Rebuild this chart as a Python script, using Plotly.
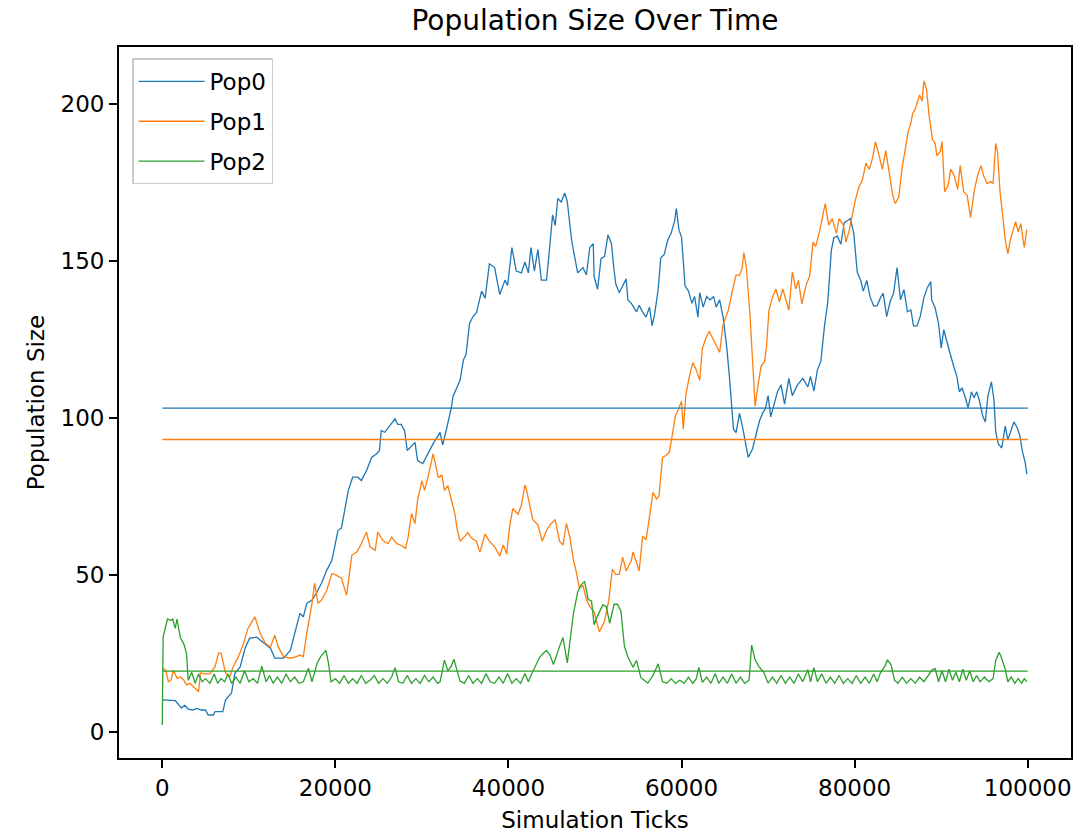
import plotly.graph_objects as go

# ---------------- data (ticks in thousands, values = population size) ----------------
pop0_ticks_k = [0, 0.5, 1.0, 1.5, 1.8, 2.2, 2.6, 3.0, 3.5, 4.0, 4.5, 5.0, 5.3, 5.9, 6.1, 7.0, 7.3, 8.0, 8.4, 9.0,
                9.6, 10.1, 10.9, 11.7, 12.5, 13.0, 14.0, 14.8, 15.5, 15.9, 16.3, 16.7, 17.3, 17.8, 18.4, 19.0, 19.6, 20.0,
                20.3, 20.7, 21.1, 21.5, 22.0, 22.6, 23.0, 23.6, 24.2, 24.8, 25.1, 25.3, 25.7, 26.3, 26.9, 27.2, 27.6,
                28.0, 28.3, 28.6, 29.2, 29.5, 30.1, 30.7, 31.3, 32.1, 32.4, 32.8, 33.4, 33.6, 34.1, 34.4, 34.8, 35.1,
                35.5, 35.9, 36.3, 36.9, 37.3, 37.8, 38.4, 39.0, 39.6, 39.9, 40.4, 40.9, 41.5, 41.9, 42.3, 42.6, 43.0,
                43.4, 43.8, 44.4, 44.8, 45.1, 45.4, 45.7, 46.1, 46.5, 46.8, 47.3, 47.6, 48.0, 48.6, 49.0, 49.4, 49.8,
                49.9, 50.3, 50.7, 51.1, 51.5, 51.9, 52.2, 52.4, 52.8, 53.2, 53.6, 53.8, 54.2, 54.8, 55.1, 55.5, 55.9,
                56.3, 56.6, 56.9, 57.3, 57.6, 58.0, 58.4, 58.8, 59.2, 59.4, 59.7, 60.0, 60.4, 60.8, 61.2, 61.5, 61.9,
                62.1, 62.5, 62.9, 63.3, 63.7, 64.0, 64.4, 64.8, 65.2, 65.5, 65.8, 66.0, 66.3, 66.7, 67.1, 67.5, 67.7,
                68.2, 68.6, 69.0, 69.4, 69.7, 70.0, 70.3, 70.7, 71.1, 71.5, 71.9, 72.4, 72.8, 73.4, 74.0, 74.6, 74.9,
                75.3, 75.7, 76.1, 76.5, 76.9, 77.3, 77.6, 78.0, 78.4, 78.8, 79.2, 79.5, 79.9, 80.3, 80.7, 81.0, 81.4,
                81.8, 82.2, 82.6, 83.0, 83.3, 83.7, 84.1, 84.5, 84.9, 85.3, 85.7, 86.1, 86.5, 86.8, 87.2, 87.6, 88.0,
                88.4, 88.8, 88.9, 89.3, 89.7, 90.0, 90.3, 90.7, 91.1, 91.5, 91.8, 92.1, 92.4, 92.8, 93.1, 93.5, 93.8,
                94.1, 94.4, 94.8, 95.1, 95.4, 95.8, 96.1, 96.3, 96.6, 97.0, 97.4, 97.7, 98.1, 98.4, 98.8, 99.1, 99.4,
                99.7, 99.9]
pop0_values = [10.2, 10.2, 10.2, 10.0, 9.0, 7.6, 8.5, 7.3, 7.0, 7.5, 7.0, 7.0, 5.4, 5.4, 6.5, 6.5, 10.2, 12.4, 18.8, 20.7,
               27.0, 29.9, 30.2, 28.3, 26.7, 23.5, 23.5, 26.0, 33.5, 37.8, 36.7, 41.0, 42.0, 44.2, 47.4, 51.5, 54.7, 60.1,
               64.2, 65.0, 71.6, 77.0, 81.2, 81.2, 80.1, 83.3, 87.5, 88.7, 89.7, 96.0, 95.5, 97.6, 99.8, 98.0, 98.0,
               96.0, 89.7, 90.5, 92.3, 86.5, 85.5, 88.7, 91.9, 95.5, 91.5, 96.0, 103.4, 107.0, 109.8, 112.0, 118.6, 120.3,
               130.1, 132.4, 133.6, 140.5, 138.2, 149.2, 148.0, 139.4, 144.0, 142.3, 154.4, 146.9, 146.3, 149.8, 146.3,
               154.4, 146.9, 153.8, 144.0, 144.0, 155.6, 164.8, 161.4, 170.0, 168.9, 171.8, 168.9, 156.7, 152.1, 146.3,
               148.0, 145.7, 154.4, 155.6, 145.2, 141.1, 150.9, 151.5, 158.4, 155.6, 147.2, 142.8, 140.0, 142.2, 144.4,
               137.7, 136.6, 133.9, 136.0, 133.9, 132.2, 135.4, 129.4, 133.3, 141.1, 151.1, 152.2, 156.7, 159.0, 162.9,
               166.8, 160.0, 157.7, 142.2, 140.5, 136.6, 138.8, 132.2, 140.0, 135.4, 138.8, 137.7, 138.8, 135.4, 137.7,
               132.2, 123.2, 114.3, 103.2, 96.5, 95.4, 101.5, 96.5, 90.9, 87.5, 90.2, 95.0, 99.1, 101.8, 103.1, 107.2,
               100.4, 104.5, 108.6, 110.6, 104.5, 112.7, 107.2, 110.6, 112.7, 110.0, 113.3, 108.6, 115.4, 118.1, 129.0,
               137.1, 153.4, 157.5, 158.0, 155.4, 162.3, 163.0, 163.6, 158.9, 146.6, 143.9, 140.5, 143.9, 138.5, 135.8,
               135.8, 138.5, 139.8, 132.4, 137.1, 139.8, 148.0, 137.7, 141.0, 133.9, 134.5, 129.4, 129.4, 132.6, 138.4,
               141.6, 143.5, 137.7, 135.2, 130.1, 122.4, 128.2, 123.7, 119.9, 116.0, 113.5, 108.4, 109.7, 106.5, 103.3,
               108.4, 106.5, 108.4, 105.8, 100.7, 98.8, 107.1, 111.6, 105.8, 95.6, 91.8, 90.5, 97.5, 93.1, 96.3, 98.8,
               96.9, 94.3, 89.2, 86.0, 82.2]

pop1_ticks_k = [0, 0.4, 0.7, 1.0, 1.3, 1.7, 2.1, 2.5, 2.8, 3.2, 3.6, 4.2, 4.4, 5.0, 5.5, 6.1, 6.5, 6.8, 7.3, 7.8, 8.2,
                8.8, 9.4, 9.9, 10.7, 11.3, 11.9, 12.5, 13.0, 13.4, 14.0, 14.8, 15.5, 15.9, 16.3, 16.7, 17.3, 17.6, 18.0,
                18.4, 19.0, 19.6, 20.1, 20.7, 21.3, 21.9, 22.5, 23.0, 23.6, 24.0, 24.6, 24.9, 25.5, 26.1, 26.5, 27.1,
                27.6, 28.1, 28.4, 28.8, 29.2, 29.5, 30.0, 30.3, 30.7, 31.3, 31.9, 32.3, 32.6, 33.0, 33.4, 33.8, 34.1,
                34.4, 35.0, 35.3, 35.7, 36.3, 36.7, 37.3, 37.8, 38.4, 39.0, 39.4, 39.8, 40.1, 40.5, 41.1, 41.5, 41.9,
                42.1, 42.5, 42.8, 43.4, 43.9, 44.4, 44.8, 45.4, 45.9, 46.3, 46.7, 47.1, 47.5, 47.8, 48.2, 48.6, 49.0,
                49.4, 49.9, 50.5, 51.1, 51.6, 52.0, 52.4, 52.8, 53.2, 53.6, 54.2, 54.4, 54.8, 55.1, 55.5, 55.9, 56.3,
                56.7, 57.1, 57.4, 57.8, 58.2, 58.6, 58.9, 59.3, 59.6, 60.0, 60.2, 60.5, 60.9, 61.3, 61.7, 62.1, 62.4,
                62.8, 63.2, 63.6, 64.0, 64.4, 64.8, 65.4, 66.0, 66.3, 66.7, 67.0, 67.2, 67.5, 67.9, 68.2, 68.5, 68.8,
                69.2, 69.6, 69.8, 70.1, 70.5, 70.9, 71.3, 71.7, 72.1, 72.4, 72.8, 73.2, 73.5, 73.9, 74.4, 74.8, 75.2,
                75.5, 76.0, 76.3, 76.6, 77.0, 77.4, 77.9, 78.2, 78.7, 79.0, 79.4, 79.7, 80.1, 80.5, 80.9, 81.3, 81.7,
                82.1, 82.4, 82.8, 83.2, 83.6, 84.0, 84.4, 84.7, 85.1, 85.5, 85.9, 86.2, 86.5, 86.7, 87.0, 87.5, 87.8,
                88.0, 88.3, 88.6, 89.0, 89.3, 89.5, 89.9, 90.1, 90.4, 90.8, 91.1, 91.5, 91.9, 92.2, 92.6, 93.0, 93.4,
                93.8, 94.2, 94.6, 94.9, 95.3, 95.7, 96.0, 96.3, 96.5, 96.8, 97.1, 97.4, 97.7, 98.0, 98.4, 98.6, 98.9,
                99.2, 99.6, 99.9]
pop1_values = [20.3, 19.7, 16.0, 16.5, 19.7, 17.1, 17.5, 16.5, 15.0, 15.5, 14.4, 12.8, 18.8, 18.5, 18.5, 20.8, 25.1,
               25.1, 18.8, 17.6, 20.8, 24.0, 28.3, 33.0, 36.7, 31.5, 28.3, 27.1, 30.8, 27.1, 24.0, 23.5, 24.0, 24.5,
               24.0, 31.5, 41.0, 47.4, 41.0, 42.0, 45.1, 50.5, 50.0, 49.0, 43.6, 56.3, 57.4, 60.0, 63.7, 59.0, 57.9,
               63.7, 61.0, 60.0, 62.1, 60.0, 59.5, 58.5, 62.0, 69.6, 66.4, 73.8, 80.1, 77.0, 81.2, 88.7, 81.0, 82.0,
               77.0, 78.5, 74.0, 69.6, 64.2, 60.8, 62.5, 63.6, 61.9, 60.8, 57.3, 63.1, 60.8, 59.0, 56.1, 59.6, 56.7,
               64.8, 71.2, 69.4, 72.3, 78.7, 77.0, 71.2, 67.7, 66.0, 60.8, 64.2, 66.0, 67.7, 60.8, 59.6, 66.5, 61.9,
               55.0, 51.5, 45.7, 46.8, 42.3, 39.9, 38.2, 31.9, 35.3, 42.0, 51.8, 50.2, 50.2, 55.7, 51.3, 54.6, 57.4,
               54.0, 51.3, 62.4, 61.3, 68.6, 76.4, 74.2, 75.3, 87.5, 88.1, 89.2, 94.2, 100.9, 102.6, 105.4, 96.5, 107.6,
               113.2, 117.7, 115.4, 112.1, 122.1, 125.5, 127.7, 125.5, 123.2, 121.0, 129.9, 134.4, 142.2, 145.6, 145.6,
               147.8, 152.8, 147.8, 133.3, 117.7, 103.8, 110.0, 116.7, 118.1, 122.2, 134.4, 138.5, 141.2, 137.1, 141.2,
               137.1, 134.4, 146.6, 141.2, 143.9, 136.4, 142.5, 145.2, 156.1, 154.7, 160.2, 164.3, 168.4, 161.5, 163.6,
               158.9, 163.6, 161.5, 156.1, 160.2, 164.3, 169.7, 173.8, 175.9, 181.3, 179.3, 183.3, 188.1, 184.0, 179.3,
               185.3, 177.9, 171.1, 168.4, 170.5, 180.0, 186.5, 191.5, 194.0, 197.1, 198.5, 203.0, 201.0, 207.5, 205.0,
               196.5, 188.8, 187.6, 183.7, 185.0, 188.2, 172.2, 174.1, 179.3, 177.3, 172.9, 180.5, 172.2, 171.0, 163.9,
               172.2, 177.3, 180.5, 177.3, 174.8, 175.4, 174.8, 187.6, 185.0, 172.2, 164.6, 156.9, 152.4, 156.9, 160.7,
               162.6, 159.4, 162.0, 154.4, 160.1]

pop2_ticks_k = [0, 0.1, 0.6, 1.0, 1.2, 1.5, 1.7, 2.1, 2.5, 2.8, 3.0, 3.4, 3.8, 4.2, 4.6, 5.0, 5.5, 6.0, 6.4, 6.8, 7.2,
                7.6, 8.0, 8.5, 9.0, 9.5, 10.0, 10.5, 11.0, 11.5, 12.0, 12.4, 12.8, 13.3, 13.8, 14.3, 14.8, 15.3, 15.8,
                16.3, 16.9, 17.3, 17.9, 18.3, 18.9, 19.2, 19.5, 20.0, 20.5, 21.0, 21.5, 22.0, 22.5, 23.0, 23.5, 24.0,
                24.5, 25.0, 25.5, 26.0, 26.5, 26.9, 27.3, 27.8, 28.3, 28.8, 29.3, 29.8, 30.3, 30.8, 31.3, 31.8, 32.1,
                32.6, 33.0, 33.4, 33.7, 34.1, 34.4, 34.9, 35.4, 35.9, 36.4, 36.9, 37.4, 37.9, 38.4, 38.9, 39.4, 39.9,
                40.4, 40.9, 41.4, 41.9, 42.3, 42.6, 43.0, 43.6, 44.0, 44.4, 44.8, 45.2, 45.9, 46.3, 46.8, 47.5, 48.0,
                48.4, 48.8, 49.2, 49.6, 49.9, 50.3, 50.9, 51.3, 51.7, 52.2, 52.6, 53.0, 53.4, 53.8, 54.4, 54.8, 55.3,
                55.7, 56.1, 56.7, 57.3, 57.8, 58.3, 58.8, 59.3, 59.8, 60.3, 60.8, 61.3, 61.7, 62.0, 62.4, 62.9, 63.4,
                63.9, 64.3, 64.8, 65.3, 65.8, 66.3, 66.8, 67.3, 67.8, 68.1, 68.5, 68.9, 69.5, 70.0, 70.5, 71.0, 71.5,
                72.0, 72.5, 73.0, 73.5, 74.0, 74.6, 74.9, 75.3, 75.7, 76.2, 76.7, 77.2, 77.7, 78.2, 78.7, 79.2, 79.7,
                80.2, 80.7, 81.2, 81.7, 82.2, 82.6, 83.0, 83.5, 83.8, 84.2, 84.6, 85.0, 85.5, 86.0, 86.5, 87.0, 87.5,
                88.0, 88.5, 89.0, 89.3, 89.7, 90.1, 90.5, 90.9, 91.3, 91.7, 92.1, 92.5, 92.9, 93.3, 93.7, 94.1, 94.5,
                95.0, 95.5, 96.0, 96.3, 96.7, 97.0, 97.4, 97.7, 98.1, 98.5, 98.9, 99.3, 99.6, 99.9]
pop2_values = [2.2, 30.3, 36.0, 35.5, 36.0, 33.0, 36.0, 30.0, 28.0, 25.0, 16.5, 19.0, 15.5, 18.5, 16.0, 17.0, 15.5,
               18.5, 15.5, 17.0, 16.0, 18.5, 15.5, 17.5, 15.5, 19.5, 16.0, 17.0, 15.5, 21.0, 16.0, 18.0, 15.5, 17.5,
               15.5, 18.5, 16.0, 17.5, 15.5, 16.0, 20.3, 16.0, 22.0, 24.0, 26.0, 22.0, 16.0, 17.0, 15.5, 18.0, 15.5,
               17.0, 15.5, 18.0, 15.5, 16.5, 18.0, 15.5, 17.0, 15.5, 17.5, 20.5, 16.0, 15.5, 18.0, 15.5, 17.0, 15.5,
               18.0, 16.0, 17.5, 15.5, 16.0, 22.9, 19.5, 21.0, 23.2, 19.0, 16.2, 15.5, 18.0, 15.5, 17.0, 15.5, 18.6,
               16.0, 15.5, 17.5, 15.5, 18.6, 15.5, 17.0, 15.5, 18.6, 16.0, 18.0, 20.4, 23.8, 25.0, 26.0, 24.5, 21.5,
               27.2, 30.1, 22.0, 37.6, 44.6, 46.9, 48.0, 42.3, 41.7, 34.2, 37.0, 40.5, 40.0, 34.6, 40.7, 40.7, 38.5,
               27.3, 23.9, 20.6, 22.8, 17.3, 16.5, 15.6, 18.0, 21.7, 16.0, 15.5, 17.0, 15.5, 16.5, 15.5, 17.5, 15.5,
               17.0, 20.6, 15.8, 17.5, 15.5, 18.6, 15.5, 17.5, 15.5, 18.5, 15.5, 17.5, 15.5, 16.5, 27.7, 23.0, 21.0,
               19.0, 15.6, 17.5, 15.5, 18.0, 15.5, 17.5, 15.5, 18.5, 16.0, 19.9, 16.0, 20.5, 16.0, 18.5, 15.5, 17.5,
               15.5, 18.0, 15.5, 17.0, 15.5, 18.0, 15.5, 17.5, 15.5, 18.5, 16.0, 19.0, 21.0, 23.0, 21.5, 16.5, 15.5,
               17.5, 15.5, 17.0, 15.5, 17.5, 16.0, 18.0, 19.9, 20.2, 16.0, 19.5, 16.0, 20.0, 16.5, 19.0, 16.0, 20.0,
               16.5, 19.5, 16.0, 18.0, 16.0, 17.5, 16.0, 17.0, 22.8, 25.4, 23.4, 20.0, 16.0, 17.5, 15.5, 17.0, 15.5,
               17.0, 16.0]

series_names = ["Pop0", "Pop1", "Pop2"]
series_ticks_k = [pop0_ticks_k, pop1_ticks_k, pop2_ticks_k]
series_values = [pop0_values, pop1_values, pop2_values]
mean_values = [103.2, 93.2, 19.4]          # horizontal average lines
mean_span = [0, 100000]
colors = ["#1f77b4", "#ff7f0e", "#2ca02c"]

x_tick_vals = [0, 20000, 40000, 60000, 80000, 100000]
y_tick_vals = [0, 50, 100, 150, 200]

FONT = "DejaVu Sans"

fig = go.Figure()
for i, name in enumerate(series_names):
    fig.add_trace(go.Scatter(
        x=[t * 1000 for t in series_ticks_k[i]], y=series_values[i], mode="lines", name=name,
        line=dict(color=colors[i], width=1.3), legendgroup=name))
for i, name in enumerate(series_names):
    fig.add_trace(go.Scatter(
        x=mean_span, y=[mean_values[i], mean_values[i]], mode="lines", showlegend=False,
        line=dict(color=colors[i], width=1.3), legendgroup=name))

axis_common = dict(showgrid=False, zeroline=False, showline=True, mirror=True, linecolor="black", linewidth=1.8,
                   ticks="outside", ticklen=8, tickwidth=1.8, tickcolor="black", automargin=False,
                   tickfont=dict(family=FONT, size=23, color="black"))

fig.update_layout(
    width=1083, height=838,
    margin=dict(l=119, r=12, t=47, b=80, autoexpand=False),
    paper_bgcolor="white", plot_bgcolor="white",
    font=dict(family=FONT, color="black"),
    title=dict(text="Population Size Over Time", x=0.5, xref="paper", xanchor="center",
               y=0.976, yref="container", yanchor="middle", font=dict(family=FONT, size=28, color="black")),
    xaxis=dict(range=[-5000, 105000], tickvals=x_tick_vals, tickformat="d",
               title=dict(text="Simulation Ticks", font=dict(family=FONT, size=23, color="black"), standoff=12),
               **axis_common),
    yaxis=dict(range=[-8.3, 218.3], tickvals=y_tick_vals,
               title=dict(text="Population Size", font=dict(family=FONT, size=23, color="black"), standoff=10),
               **axis_common),
    legend=dict(x=0.0137, y=0.984, xanchor="left", yanchor="top", bgcolor="rgba(255,255,255,0.8)",
                bordercolor="#cccccc", borderwidth=1.5, font=dict(family=FONT, size=23, color="black"),
                tracegroupgap=7, traceorder="grouped", itemwidth=66),
)

fig.write_html("out.html", config={"displayModeBar": False},
               post_script="document.body.style.margin='0px';")
